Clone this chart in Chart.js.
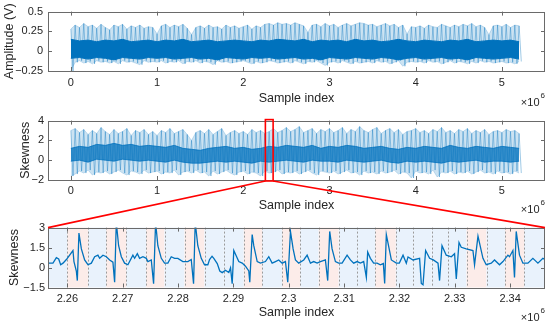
<!DOCTYPE html>
<html>
<head>
<meta charset="utf-8">
<script src="https://cdn.jsdelivr.net/npm/chart.js@4.4.1/dist/chart.umd.min.js"></script>
<style>
  html, body { margin: 0; padding: 0; background: #fff; }
  #fig { position: relative; width: 550px; height: 326px; }
  #fig canvas { position: absolute; left: 0; }
</style>
</head>
<body>
<div id="fig">
  <canvas id="c1" width="550" height="110" style="top:0"></canvas>
  <canvas id="c2" width="550" height="108" style="top:110px"></canvas>
  <canvas id="c3" width="550" height="108" style="top:218px"></canvas>
  <canvas id="ov" width="550" height="326" style="top:0;pointer-events:none"></canvas>
</div>
<script>
// envelope bins of the long recordings (sample index step)
const binStep = 50000;
const coreStep = 100000;

// amplitude (V): peak / trough of the light spikes per bin
const ampHi = [
  0.28, 0.33, 0.30, 0.35, 0.31, 0.33, 0.29, 0.34, 0.30, 0.27,
  0.33, 0.31, 0.34, 0.28, 0.32, 0.30, 0.33, 0.29, 0.31, 0.30,
  0.22, 0.32, 0.34, 0.30, 0.33, 0.31, 0.34, 0.29, 0.21, 0.30,
  0.32, 0.29, 0.33, 0.30, 0.31, 0.28, 0.33, 0.30, 0.32, 0.29,
  0.31, 0.33, 0.28, 0.32, 0.30, 0.34, 0.35, 0.33, 0.36, 0.34,
  0.35, 0.33, 0.36, 0.34, 0.32, 0.24, 0.33, 0.34, 0.31, 0.35,
  0.32, 0.34, 0.30, 0.33, 0.35, 0.32, 0.34, 0.36, 0.35, 0.33,
  0.34, 0.31, 0.33, 0.35, 0.32, 0.34, 0.30, 0.33, 0.22, 0.31,
  0.30, 0.32, 0.29, 0.33, 0.31, 0.30, 0.34, 0.32, 0.30, 0.33,
  0.31, 0.34, 0.32, 0.35, 0.31, 0.33, 0.30, 0.21, 0.32, 0.33,
  0.31, 0.34, 0.30, 0.33, 0.32
];
const ampLo = [
  -0.25, -0.14, -0.12, -0.15, -0.13, -0.16, -0.12, -0.14, -0.13, -0.15,
  -0.13, -0.16, -0.12, -0.14, -0.13, -0.15, -0.17, -0.12, -0.14, -0.13,
  -0.14, -0.12, -0.15, -0.13, -0.14, -0.12, -0.16, -0.13, -0.14, -0.12,
  -0.15, -0.13, -0.14, -0.17, -0.12, -0.14, -0.13, -0.15, -0.14, -0.13,
  -0.12, -0.14, -0.16, -0.13, -0.15, -0.14, -0.12, -0.13, -0.15, -0.14,
  -0.13, -0.15, -0.12, -0.14, -0.16, -0.13, -0.14, -0.12, -0.15, -0.18,
  -0.14, -0.13, -0.15, -0.12, -0.14, -0.16, -0.13, -0.15, -0.14, -0.13,
  -0.15, -0.12, -0.14, -0.13, -0.16, -0.14, -0.12, -0.19, -0.14, -0.13,
  -0.14, -0.13, -0.15, -0.12, -0.14, -0.13, -0.16, -0.14, -0.12, -0.15,
  -0.13, -0.14, -0.16, -0.13, -0.15, -0.12, -0.14, -0.13, -0.15, -0.14,
  -0.13, -0.15, -0.14, -0.16, -0.13
];
// amplitude: dense dark core
const ampCoreHi = [
  0.15, 0.13, 0.14, 0.12, 0.14, 0.13, 0.15, 0.12, 0.13, 0.14,
  0.12, 0.14, 0.13, 0.15, 0.12, 0.13, 0.14, 0.12, 0.13, 0.14,
  0.13, 0.12, 0.14, 0.13, 0.15, 0.14, 0.13, 0.15, 0.12, 0.14,
  0.13, 0.14, 0.12, 0.15, 0.13, 0.14, 0.12, 0.13, 0.15, 0.13,
  0.12, 0.14, 0.13, 0.12, 0.14, 0.13, 0.15, 0.12, 0.13, 0.14,
  0.13, 0.14, 0.12
];
const ampCoreLo = [
  -0.09, -0.08, -0.10, -0.08, -0.09, -0.11, -0.08, -0.09, -0.10, -0.08,
  -0.09, -0.08, -0.10, -0.09, -0.08, -0.10, -0.09, -0.11, -0.08, -0.09,
  -0.10, -0.08, -0.09, -0.08, -0.10, -0.09, -0.08, -0.10, -0.09, -0.11,
  -0.08, -0.09, -0.10, -0.08, -0.09, -0.10, -0.08, -0.09, -0.11, -0.09,
  -0.08, -0.10, -0.09, -0.08, -0.10, -0.09, -0.11, -0.08, -0.09, -0.10,
  -0.09, -0.08, -0.10
];

// skewness of the long recording
const skewHi = [
  3.0, 3.2, 2.8, 3.1, 2.6, 3.0, 2.7, 3.3, 2.9, 2.6,
  3.1, 2.7, 2.9, 3.2, 2.5, 3.0, 2.8, 3.1, 2.6, 2.9,
  2.5, 3.0, 2.8, 3.2, 2.7, 2.9, 3.1, 2.6, 2.0, 2.8,
  3.0, 2.7, 3.1, 2.6, 2.9, 3.2, 2.5, 2.8, 3.0, 2.7,
  2.9, 2.6, 3.1, 2.8, 3.0, 2.7, 2.9, 3.2, 2.8, 3.0,
  3.3, 2.9, 3.1, 3.4, 2.8, 3.0, 3.2, 2.7, 3.1, 2.9,
  3.2, 2.8, 3.0, 3.3, 2.7, 3.1, 2.9, 3.4, 3.0, 2.8,
  3.1, 3.3, 2.7, 3.0, 3.2, 2.8, 3.1, 2.6, 2.9, 3.0,
  3.2, 2.8, 3.0, 2.7, 3.1, 2.9, 3.3, 2.8, 3.0, 2.7,
  3.1, 2.9, 3.2, 2.7, 3.0, 2.8, 3.1, 2.6, 2.9, 3.0,
  2.8, 3.1, 2.9, 3.0, 2.7
];
const skewLo = [
  -1.6, -1.4, -1.1, -1.3, -1.0, -1.5, -1.2, -1.3, -1.1, -1.4,
  -1.2, -1.0, -1.3, -1.5, -1.1, -1.2, -1.4, -1.0, -1.3, -1.2,
  -1.1, -1.4, -1.2, -1.3, -1.0, -1.5, -1.2, -1.1, -1.3, -1.0,
  -1.3, -1.2, -1.6, -1.1, -1.4, -1.2, -1.0, -1.3, -1.5, -1.2,
  -1.1, -1.4, -1.2, -1.3, -1.6, -1.1, -1.3, -1.2, -1.0, -1.4,
  -1.2, -1.3, -1.1, -1.4, -1.2, -1.0, -1.3, -1.5, -1.1, -1.2,
  -1.3, -1.1, -1.4, -1.2, -1.0, -1.3, -1.2, -1.5, -1.1, -1.3,
  -1.2, -1.4, -1.1, -1.3, -1.2, -1.0, -1.4, -1.2, -1.3, -1.8,
  -1.1, -1.3, -1.2, -1.4, -1.0, -1.7, -1.2, -1.3, -1.1, -1.4,
  -1.2, -1.3, -1.1, -1.4, -1.2, -1.0, -1.3, -1.2, -1.4, -1.1,
  -1.3, -1.2, -1.4, -1.1, -1.3
];
const skewCoreHi = [
  1.2, 1.4, 1.3, 1.6, 1.5, 1.7, 1.5, 1.6, 1.4, 1.5,
  1.4, 1.3, 1.5, 1.2, 1.1, 1.0, 1.2, 1.3, 1.4, 1.2,
  1.3, 1.1, 1.2, 1.4, 1.3, 1.5, 1.4, 1.3, 1.5, 1.2,
  1.4, 1.3, 1.5, 1.4, 1.2, 1.3, 1.4, 1.2, 1.1, 1.3,
  1.2, 1.4, 1.3, 1.2, 1.5, 1.3, 1.2, 1.4, 1.3, 1.2,
  1.4, 1.3, 1.2
];
const skewCoreLo = [
  -0.1, 0.0, -0.2, 0.1, 0.0, -0.1, 0.1, 0.0, -0.1, 0.0,
  -0.1, -0.2, 0.0, -0.2, -0.3, -0.3, -0.2, -0.1, -0.2, -0.1,
  -0.2, -0.3, -0.1, -0.2, -0.1, 0.0, -0.1, -0.2, 0.0, -0.1,
  -0.1, -0.2, 0.0, -0.1, -0.2, -0.1, 0.0, -0.2, -0.3, -0.1,
  -0.2, -0.1, -0.2, -0.3, -0.1, -0.2, -0.1, 0.0, -0.2, -0.1,
  -0.1, -0.2, -0.1
];

// zoomed window
const zoomRange = [2256500, 2346300];
const zoomIdx = [
  2256500, 2257400, 2258010, 2258430, 2258790, 2259210, 2259820, 2261010, 2261190, 2261620,
  2261800, 2262090, 2262530, 2263120, 2263720, 2264330, 2264930, 2265520, 2265830, 2266430,
  2267040, 2267640, 2268230, 2268540, 2268840, 2269260, 2269750, 2270340, 2270940, 2271840,
  2272150, 2272640, 2273050, 2273650, 2274260, 2274550, 2275160, 2275580, 2275940, 2276350,
  2276970, 2277560, 2278160, 2278770, 2279370, 2279960, 2280870, 2281770, 2282380, 2282800,
  2283100, 2283570, 2284190, 2284780, 2285380, 2285690, 2286140, 2286460, 2287080, 2287540,
  2287980, 2288570, 2289170, 2289480, 2289780, 2290070, 2290380, 2290970, 2291590, 2292180,
  2292780, 2292960, 2293390, 2293680, 2294300, 2294890, 2295790, 2296390, 2297000, 2297600,
  2298190, 2298810, 2299400, 2299820, 2300310, 2300790, 2301210, 2301800, 2302710, 2303320,
  2303920, 2304510, 2305130, 2305720, 2306620, 2307040, 2307400, 2307830, 2308430, 2309020,
  2309640, 2310540, 2311140, 2311730, 2312350, 2312940, 2313540, 2314020, 2314260, 2314750,
  2315340, 2315960, 2316550, 2317090, 2317330, 2317630, 2318540, 2319440, 2319980, 2320650,
  2321240, 2321550, 2322450, 2323640, 2323950, 2324260, 2324730, 2325450, 2326120, 2326970,
  2327250, 2327690, 2328460, 2329370, 2329960, 2330270, 2330760, 2331170, 2332070, 2333280,
  2333570, 2334190, 2335090, 2335680, 2336590, 2337180, 2338080, 2338700, 2339600, 2339890,
  2340500, 2340790, 2341100, 2341690, 2342310, 2343210, 2344110, 2345020, 2345920, 2346300
];
const zoomSkew = [
  0.33, 0.33, 0.74, 0.64, 0.21, 0.33, 0.6, 1.28, 0.45, -0.26,
  -0.98, 2.59, 1.4, 0.57, 0.21, 0.33, 0.81, 0.93, 0.7, 0.93,
  0.81, 0.57, 0.4, -1.1, 3.4, 1.64, 0.81, 0.33, 0.21, 0.93,
  0.7, 1.04, 0.69, 0.81, 0.69, 0.45, 0.57, -1.21, 3.4, 1.64,
  0.69, 0.33, 0.33, 0.81, 0.69, 0.69, 0.45, 0.45, 0.6, -1.21,
  3.4, 1.64, 0.69, 0.21, 0.21, 0.6, 0.85, 0.69, 0.3, -0.26,
  -0.38, -0.2, -0.38, -0.03, -1.21, 1.28, 1.0, 0.45, 0.33, 0.1,
  -0.26, -1.1, 2.47, 1.64, 0.45, 0.33, 0.45, 0.81, 0.33, 0.45,
  0.57, 0.33, 0.45, -1.1, 2.71, 1.4, 0.57, 0.33, 0.57, 0.93,
  0.33, 0.45, 0.33, 0.45, 0.57, -0.98, 2.71, 1.4, 0.45, 0.33,
  0.33, 0.93, 0.57, 0.33, 0.45, 0.33, 0.45, -0.74, 1.16, 0.69,
  0.33, 0.33, 0.21, 0.3, -1.2, 2.47, 0.57, 0.33, 0.33, 0.93,
  0.33, 0.8, 0.57, 0.69, -1.2, -1.3, 1.28, 0.69, 0.57, 0.33,
  -0.98, 1.64, 0.93, 0.81, 1.04, -0.86, 1.88, 1.52, 1.4, 1.28,
  0.2, 2.36, 0.69, 0.21, 0.33, 0.57, 0.21, 0.45, 0.93, 0.81,
  1.28, -0.74, 2.71, 0.93, 0.33, 0.33, 0.69, 0.33, 0.69, 0.6
];
// window boundaries and their class (1 = red window, 0 = blue window)
const segEdges = [
  2256500, 2260000, 2263720, 2267040, 2270650, 2274260, 2277560, 2281170, 2284780,
  2288270, 2291880, 2295200, 2298810, 2302110, 2305410, 2309020, 2312350, 2315650,
  2319350, 2322510, 2325810, 2328830, 2332130, 2335740, 2339060, 2342540, 2346300
];
const segType = [0, 1, 0, 1, 0, 1, 0, 1, 0, 0, 1, 0, 1, 0, 1, 0, 0, 1, 0, 0, 0, 0, 1, 0, 1, 0];

// ticks
const fullTicks = [0, 1, 2, 3, 4, 5];
const zoomTicks = [2.26, 2.27, 2.28, 2.29, 2.3, 2.31, 2.32, 2.33, 2.34];
const ampTicks = [-0.25, 0, 0.25, 0.5];
const skewTicks = [-2, 0, 2, 4];
const zoomSkewTicks = [-1.5, 0, 1.5, 3];

const FONT = "'Liberation Sans', Arial, Helvetica, sans-serif";
const INK = '#262626';
const BLUE = '#0072BD';
const minus = s => String(s).replace('-', '\u2212');

function zigzag(hi, lo) {
  const pts = [];
  hi.forEach((v, i) => {
    pts.push({ x: i * binStep, y: v });
    pts.push({ x: i * binStep + binStep / 2, y: lo[i] });
  });
  return pts;
}
const bins = vals => vals.map((v, i) => ({ x: i * binStep, y: v }));
const band = vals => vals.map((v, i) => ({ x: i * coreStep, y: v }));

// light spike cloud + dense core, as four line datasets
function signalSets(hi, lo, coreHi, coreLo, coreAlpha) {
  const core = 'rgba(0,114,189,' + coreAlpha + ')';
  return [
    { data: band(coreHi), borderColor: core, backgroundColor: core, borderWidth: 1, fill: '+1' },
    { data: band(coreLo), borderColor: core, borderWidth: 1, fill: false },
    { data: zigzag(hi, lo), borderColor: 'rgba(0,114,189,0.42)', borderWidth: 0.9, fill: false },
    { data: bins(hi), borderColor: 'rgba(0,114,189,0.25)', backgroundColor: 'rgba(0,114,189,0.2)', borderWidth: 0.8, fill: '+1' },
    { data: bins(lo), borderColor: 'rgba(0,114,189,0.25)', borderWidth: 0.8, fill: false }
  ];
}

function axesBox(expY) {
  return {
    id: 'axesBox',
    afterDraw(chart) {
      const { ctx, chartArea: a, scales: { x, y } } = chart;
      ctx.save();
      ctx.strokeStyle = '#6a6a6a';
      ctx.lineWidth = 1;
      ctx.beginPath();
      x.ticks.forEach(t => {
        const px = Math.round(x.getPixelForValue(t.value)) + 0.5;
        ctx.moveTo(px, a.top); ctx.lineTo(px, a.top + 4);
        ctx.moveTo(px, a.bottom); ctx.lineTo(px, a.bottom - 4);
      });
      y.ticks.forEach(t => {
        const py = Math.round(y.getPixelForValue(t.value)) + 0.5;
        ctx.moveTo(a.left, py); ctx.lineTo(a.left + 4, py);
        ctx.moveTo(a.right, py); ctx.lineTo(a.right - 4, py);
      });
      ctx.stroke();
      ctx.strokeRect(Math.round(a.left) + 0.5, Math.round(a.top) + 0.5,
        Math.round(a.right - a.left) - 1, Math.round(a.bottom - a.top));
      ctx.fillStyle = INK;
      ctx.textBaseline = 'middle';
      ctx.textAlign = 'right';
      ctx.font = '11px ' + FONT;
      ctx.fillText('\u00d710', a.right - 5.5, a.bottom + expY);
      ctx.textAlign = 'left';
      ctx.font = '8px ' + FONT;
      ctx.fillText('6', a.right - 4.5, a.bottom + expY - 6.8);
      ctx.restore();
    }
  };
}

const windowShade = {
  id: 'windowShade',
  beforeDatasetsDraw(chart) {
    const { ctx, chartArea: a, scales: { x } } = chart;
    ctx.save();
    segType.forEach((t, i) => {
      const x0 = x.getPixelForValue(segEdges[i]);
      const x1 = x.getPixelForValue(segEdges[i + 1]);
      ctx.fillStyle = t ? 'rgb(252,236,233)' : 'rgb(233,242,252)';
      ctx.fillRect(x0, a.top, x1 - x0, a.bottom - a.top);
    });
    ctx.strokeStyle = '#9a9a9a';
    ctx.lineWidth = 1;
    ctx.setLineDash([2, 2]);
    ctx.beginPath();
    segEdges.slice(1, -1).forEach(v => {
      const px = Math.round(x.getPixelForValue(v)) + 0.5;
      ctx.moveTo(px, a.top); ctx.lineTo(px, a.bottom);
    });
    ctx.stroke();
    ctx.restore();
  }
};

function panelOptions(p) {
  return {
    responsive: false,
    animation: false,
    devicePixelRatio: 1,
    events: [],
    layout: { padding: { top: p.padTop, right: 5, left: 0, bottom: 0 } },
    elements: { point: { radius: 0 }, line: { tension: 0 } },
    plugins: { legend: { display: false }, tooltip: { enabled: false } },
    scales: {
      x: {
        type: 'linear', min: p.xMin, max: p.xMax,
        grid: { display: false, drawTicks: false }, border: { display: false },
        afterBuildTicks: ax => { ax.ticks = p.xTicks.map(v => ({ value: Math.round(v * 1e6) })); },
        afterFit: ax => { ax.height = p.xAxisH; },
        ticks: {
          autoSkip: false, maxRotation: 0, padding: p.tickPadX, color: INK,
          font: { family: FONT, size: 11 },
          callback: v => String(+(v / 1e6).toFixed(2))
        },
        title: {
          display: true, text: 'Sample index', color: INK,
          font: { family: FONT, size: 12.5 }, padding: { top: 0, bottom: p.titlePadX }
        }
      },
      y: {
        min: p.yMin, max: p.yMax,
        grid: { display: false, drawTicks: false }, border: { display: false },
        afterBuildTicks: ax => { ax.ticks = p.yTicks.map(v => ({ value: v })); },
        afterFit: ax => { ax.width = 48; },
        ticks: {
          padding: p.tickPadY, color: INK, font: { family: FONT, size: 11 },
          callback: v => minus(v)
        },
        title: {
          display: true, text: p.yTitle, color: INK,
          font: { family: FONT, size: 12.5 }, padding: { top: p.titlePadY, bottom: 0 }
        }
      }
    }
  };
}

const chart1 = new Chart(document.getElementById('c1'), {
  type: 'line',
  data: { datasets: signalSets(ampHi, ampLo, ampCoreHi, ampCoreLo, 1) },
  options: panelOptions({
    padTop: 10, xAxisH: 39, xMin: -265000, xMax: 5500000, xTicks: fullTicks,
    yMin: -0.25, yMax: 0.5, yTicks: ampTicks, yTitle: 'Amplitude (V)',
    tickPadX: 5, tickPadY: 5, titlePadX: 4, titlePadY: 2
  }),
  plugins: [axesBox(32)]
});

const chart2 = new Chart(document.getElementById('c2'), {
  type: 'line',
  data: { datasets: signalSets(skewHi, skewLo, skewCoreHi, skewCoreLo, 0.75) },
  options: panelOptions({
    padTop: 8, xAxisH: 38, xMin: -265000, xMax: 5500000, xTicks: fullTicks,
    yMin: -2, yMax: 4, yTicks: skewTicks, yTitle: 'Skewness',
    tickPadX: 4.5, tickPadY: 4, titlePadX: 4.5, titlePadY: 18
  }),
  plugins: [axesBox(30)]
});

const chart3 = new Chart(document.getElementById('c3'), {
  type: 'line',
  data: {
    datasets: [
      { data: zoomIdx.map((s, i) => ({ x: s, y: zoomSkew[i] })), borderColor: BLUE, borderWidth: 1.3, fill: false }
    ]
  },
  options: panelOptions({
    padTop: 7, xAxisH: 38.5, xMin: zoomRange[0], xMax: zoomRange[1], xTicks: zoomTicks,
    yMin: -1.5, yMax: 3, yTicks: zoomSkewTicks, yTitle: 'Skewness',
    tickPadX: 4.7, tickPadY: 3, titlePadX: 5.5, titlePadY: 7.5
  }),
  plugins: [windowShade, axesBox(30)]
});

// red zoom box and connector lines drawn over the figure
const ov = document.getElementById('ov').getContext('2d');
const top2 = 110, top3 = 218;
const a2 = chart2.chartArea, a3 = chart3.chartArea;
const bx0 = chart2.scales.x.getPixelForValue(zoomRange[0]);
const bx1 = chart2.scales.x.getPixelForValue(zoomRange[1]);
ov.strokeStyle = '#ff0000';
ov.lineWidth = 1.6;
ov.strokeRect(bx0, top2 + a2.top - 1, bx1 - bx0, a2.bottom - a2.top + 2);
ov.beginPath();
ov.moveTo(bx0, top2 + a2.bottom + 1);
ov.lineTo(a3.left, top3 + a3.top);
ov.moveTo(bx1, top2 + a2.bottom + 1);
ov.lineTo(a3.right, top3 + a3.top);
ov.stroke();
</script>
</body>
</html>
